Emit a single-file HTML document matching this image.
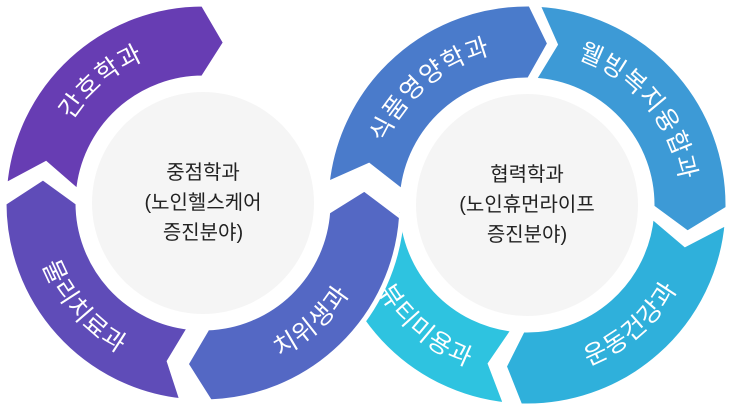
<!DOCTYPE html>
<html><head><meta charset="utf-8"><style>
html,body{margin:0;padding:0;background:#fff;width:730px;height:406px;overflow:hidden}
svg{display:block}
.lbl{font-family:"Liberation Sans","Noto Sans CJK KR",sans-serif;font-size:25px;fill:#fff;letter-spacing:1px}
.ctr{font-family:"Liberation Sans","Noto Sans CJK KR",sans-serif;font-size:20px;fill:#222}
</style></head><body>
<svg id="s" width="730" height="406" viewBox="0 0 730 406" xmlns="http://www.w3.org/2000/svg"></svg>
<script>
var NS="http://www.w3.org/2000/svg",s=document.getElementById('s');
function P(c,r,a){a=a*Math.PI/180;return [c[0]+r*Math.sin(a),c[1]-r*Math.cos(a)];}
function f(p){return p[0].toFixed(2)+' '+p[1].toFixed(2);}
function seg(c,R,r,a1,d1,a2,d2,col){
 var rm=(R+r)/2,lg=(a2-a1)>180?1:0;
 var d='M'+f(P(c,R,a1))+' A'+R+' '+R+' 0 '+lg+' 1 '+f(P(c,R,a2))+' L'+f(P(c,rm,a2+d2))+' L'+f(P(c,r,a2))+
 ' A'+r+' '+r+' 0 '+lg+' 0 '+f(P(c,r,a1))+' L'+f(P(c,rm,a1+d1))+' Z';
 var e=document.createElementNS(NS,'path');e.setAttribute('d',d);e.setAttribute('fill',col);
 e.setAttribute('stroke','#fff');e.setAttribute('stroke-width','5');e.setAttribute('stroke-linejoin','miter');s.appendChild(e);}
var id=0;
function lab(c,rad,a1,a2,cw,txt){
 id++;var p1=P(c,rad,cw?a1:a2),p2=P(c,rad,cw?a2:a1);
 var pa=document.createElementNS(NS,'path');pa.setAttribute('id','p'+id);pa.setAttribute('fill','none');
 pa.setAttribute('d','M'+f(p1)+' A'+rad+' '+rad+' 0 0 '+(cw?1:0)+' '+f(p2));s.appendChild(pa);
 var t=document.createElementNS(NS,'text');t.setAttribute('class','lbl');
 var tp=document.createElementNS(NS,'textPath');tp.setAttribute('href','#p'+id);
 tp.setAttribute('startOffset','50%');tp.setAttribute('text-anchor','middle');tp.textContent=txt;
 t.appendChild(tp);s.appendChild(t);}
function circ(c,r){var e=document.createElementNS(NS,'circle');e.setAttribute('cx',c[0]);e.setAttribute('cy',c[1]);e.setAttribute('r',r);e.setAttribute('fill','#f5f5f5');s.appendChild(e);}
function ctext(c,lines){lines.forEach(function(l,i){var t=document.createElementNS(NS,'text');t.setAttribute('class','ctr');
 t.setAttribute('x',c[0]);t.setAttribute('y',c[1]-24+i*30);t.setAttribute('text-anchor','middle');t.textContent=l;s.appendChild(t);});}
var L=[203,203],Rr=[527,205];
seg(Rr,201,125,276,8,361,7,'#4a7bcb');
seg(Rr,201,125,3,7,91,9,'#3d9ad6');
seg(Rr,201,125,95,9,182,6,'#2fb0db');
seg(Rr,201,125,186,7,268,0,'#2ec3e0');
seg(L,199,125,275,9,360,8,'#673db3');
seg(L,199,125,186,6,270,9,'#5f4cb8');
seg(L,199,125,94,-9,178,8,'#5468c4');
circ(L,111);circ(Rr,111);
ctext(L,['중점학과','(노인헬스케어','증진분야)']);
ctext(Rr,['협력학과','(노인휴먼라이프','증진분야)']);
var rt=155,rb=172;
lab(L,rt,285,355,true,'간호학과');
lab(L,rb,190,268,false,'물리치료과');
lab(L,rb,100,175,false,'치위생과');
lab(Rr,rt,282,358,true,'식품영양학과');
lab(Rr,rt,8,92,true,'웰빙복지융합과');
lab(Rr,rb,100,178,false,'운동건강과');
lab(Rr,rb,190,250,false,'뷰티미용과');
</script>
</body></html>
